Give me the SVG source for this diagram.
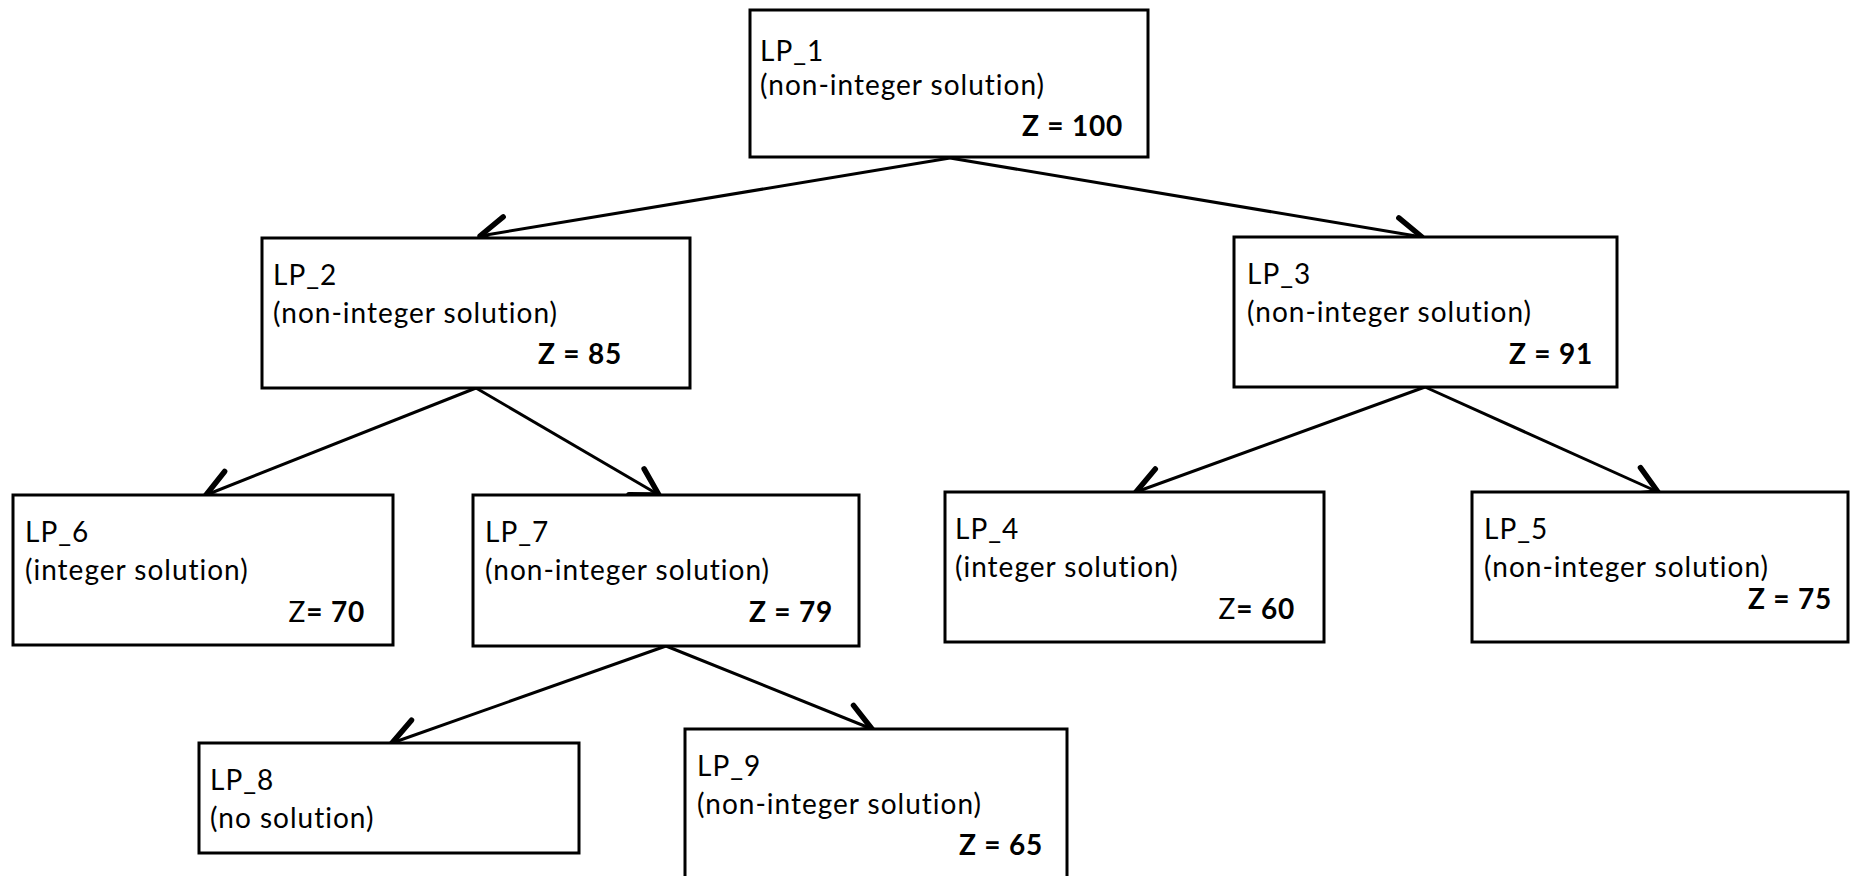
<svg xmlns="http://www.w3.org/2000/svg" width="1854" height="876" viewBox="0 0 1854 876">
  <style>
    .box { fill: #ffffff; stroke: #000000; stroke-width: 3; }
    .lbl { font-family: Lato, "Open Sans", "Liberation Sans", sans-serif; font-size: 28px; letter-spacing: 1px; fill: #000000; }
    .val { font-family: Lato, "Open Sans", "Liberation Sans", sans-serif; font-size: 28px; letter-spacing: 0.8px; fill: #000000; text-anchor: end; }
    .b { font-weight: bold; }
    .edge { fill: none; stroke: #000000; stroke-width: 3; marker-end: url(#openArrow); }
  </style>
  <defs>
    <marker id="openArrow" markerUnits="userSpaceOnUse" orient="auto" refX="0" refY="0" markerWidth="40" markerHeight="40" overflow="visible">
      <path d="M -26,-15 L 0,0 L -26,15" fill="none" stroke="#000000" stroke-width="5.5" stroke-linecap="round" stroke-linejoin="round"/>
    </marker>
  </defs>

  <rect width="1854" height="876" fill="#ffffff"/>

  <!-- connectors -->
  <g id="connectors">
    <line class="edge" x1="950" y1="158" x2="480" y2="236"/>
    <line class="edge" x1="950" y1="158" x2="1422" y2="237"/>
    <line class="edge" x1="476" y1="388" x2="206" y2="495"/>
    <line class="edge" x1="476" y1="388" x2="659" y2="495"/>
    <line class="edge" x1="1425" y1="387" x2="1136" y2="492"/>
    <line class="edge" x1="1425" y1="387" x2="1658" y2="492"/>
    <line class="edge" x1="666" y1="646" x2="392" y2="743"/>
    <line class="edge" x1="666" y1="646" x2="872" y2="729"/>
  </g>

  <!-- LP_1 -->
  <g id="lp1">
    <rect class="box" x="750" y="10" width="398" height="147"/>
    <text class="lbl" x="760" y="61">LP_1</text>
    <text class="lbl" x="760" y="95">(non-integer solution)</text>
    <text class="val b" x="1123" y="136">Z = 100</text>
  </g>

  <!-- LP_2 -->
  <g id="lp2">
    <rect class="box" x="262" y="238" width="428" height="150"/>
    <text class="lbl" x="273" y="285">LP_2</text>
    <text class="lbl" x="273" y="323">(non-integer solution)</text>
    <text class="val b" x="622" y="364">Z = 85</text>
  </g>

  <!-- LP_3 -->
  <g id="lp3">
    <rect class="box" x="1234" y="237" width="383" height="150"/>
    <text class="lbl" x="1247" y="284">LP_3</text>
    <text class="lbl" x="1247" y="322">(non-integer solution)</text>
    <text class="val b" x="1593" y="364">Z = 91</text>
  </g>

  <!-- LP_6 -->
  <g id="lp6">
    <rect class="box" x="13" y="495" width="380" height="150"/>
    <text class="lbl" x="25" y="542">LP_6</text>
    <text class="lbl" x="25" y="580">(integer solution)</text>
    <text class="val" x="365" y="622">Z<tspan class="b">= 70</tspan></text>
  </g>

  <!-- LP_7 -->
  <g id="lp7">
    <rect class="box" x="473" y="495" width="386" height="151"/>
    <text class="lbl" x="485" y="542">LP_7</text>
    <text class="lbl" x="485" y="580">(non-integer solution)</text>
    <text class="val b" x="833" y="622">Z = 79</text>
  </g>

  <!-- LP_4 -->
  <g id="lp4">
    <rect class="box" x="945" y="492" width="379" height="150"/>
    <text class="lbl" x="955" y="539">LP_4</text>
    <text class="lbl" x="955" y="577">(integer solution)</text>
    <text class="val" x="1295" y="619">Z<tspan class="b">= 60</tspan></text>
  </g>

  <!-- LP_5 -->
  <g id="lp5">
    <rect class="box" x="1472" y="492" width="376" height="150"/>
    <text class="lbl" x="1484" y="539">LP_5</text>
    <text class="lbl" x="1484" y="577">(non-integer solution)</text>
    <text class="val b" x="1832" y="609">Z = 75</text>
  </g>

  <!-- LP_8 -->
  <g id="lp8">
    <rect class="box" x="199" y="743" width="380" height="110"/>
    <text class="lbl" x="210" y="790">LP_8</text>
    <text class="lbl" x="210" y="828">(no solution)</text>
  </g>

  <!-- LP_9 -->
  <g id="lp9">
    <rect class="box" x="685" y="729" width="382" height="152"/>
    <text class="lbl" x="697" y="776">LP_9</text>
    <text class="lbl" x="697" y="814">(non-integer solution)</text>
    <text class="val b" x="1043" y="855">Z = 65</text>
  </g>
</svg>
